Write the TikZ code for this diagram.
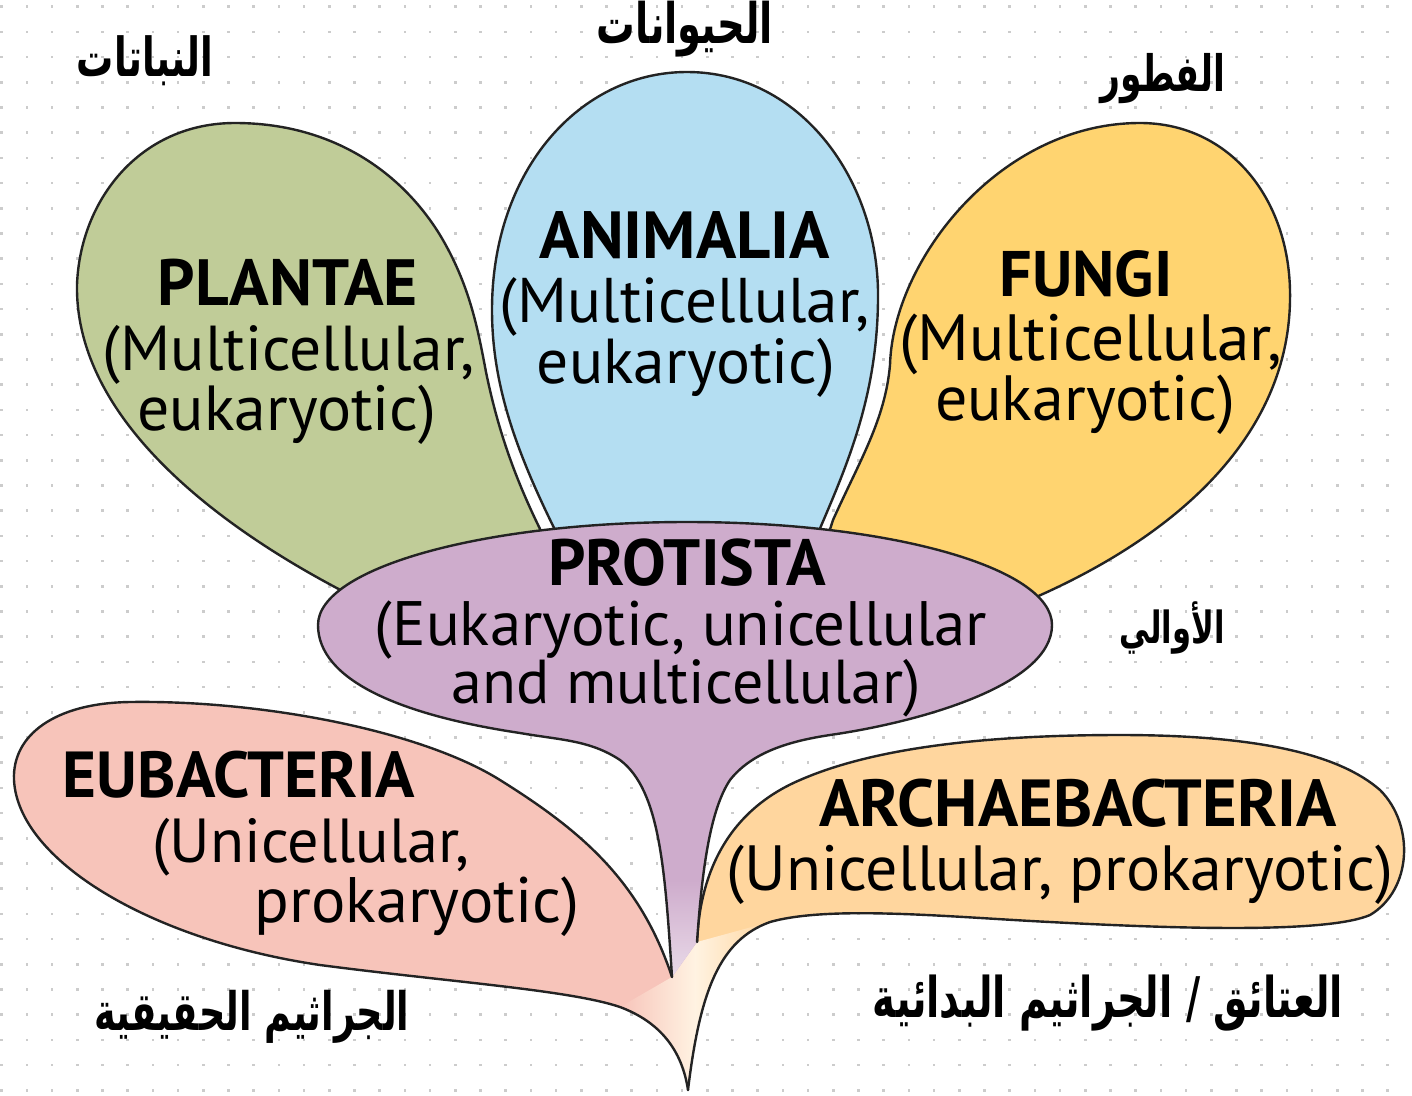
\documentclass[tikz,border=0pt]{standalone}
\usepackage{fontspec}
\setmainfont{PT Sans}
\newfontfamily\arabicfont[Script=Arabic]{DejaVu Sans}
\TeXXeTstate=1
\definecolor{dotc}{RGB}{204,204,204}
\definecolor{outl}{RGB}{35,35,35}
\definecolor{plant}{RGB}{192,204,152}
\definecolor{anim}{RGB}{180,222,242}
\definecolor{fung}{RGB}{255,212,112}
\definecolor{prot}{RGB}{206,172,204}
\definecolor{eub}{RGB}{247,196,186}
\definecolor{arch}{RGB}{255,214,158}
\newcommand\fitw[2]{\resizebox{#1pt}{!}{#2}}
\newcommand\artext[1]{\scalebox{1}[1.45]{\arabicfont\bfseries\beginR #1\endR}}
\tikzset{
  petal/.style={draw=outl, line width=2.4pt, line join=round, line cap=round},
  hd/.style={anchor=base, inner sep=0pt, font=\bfseries, text=black},
  sb/.style={anchor=base, inner sep=0pt, text=black},
  ar/.style={anchor=base, inner sep=0pt, text=black},
}
\begin{document}
\begin{tikzpicture}[x=1pt,y=-1pt]
\useasboundingbox (0,0) rectangle (1412,1095);
\fill[white] (0,0) rectangle (1412,1095);
\foreach \i in {0,...,55}{\foreach \j in {0,...,43}{
  \fill[dotc] ({0.4+25.2*\i},{5.4+25.2*\j}) rectangle ++(2.6,2.6);}}
% paths
\def\pPlant{(77,285) .. controls (80,200) and (140,123) .. (235,123) .. controls (330,123) and (400,170) .. (440,235) .. controls (470,285) and (478,330) .. (486,372) .. controls (500,440) and (520,490) .. (548,545) -- (560,610) -- (360,600) .. controls (220,530) and (75,420) .. (77,285)}
\def\pAnim{(687,72) .. controls (800,72) and (880,180) .. (878,300) .. controls (877,400) and (845,470) .. (815,540) -- (560,540) .. controls (520,460) and (492,390) .. (492,310) .. controls (492,170) and (580,72) .. (687,72)}
\def\pFung{(1140,123) .. controls (1230,123) and (1292,200) .. (1290,300) .. controls (1288,440) and (1170,545) .. (1005,610) -- (825,545) -- (833,520) .. controls (860,460) and (885,420) .. (890,365) .. controls (893,260) and (1000,123) .. (1140,123)}
\def\pEub{(672,977) .. controls (640,880) and (580,830) .. (500,780) .. controls (420,730) and (260,700) .. (130,702) .. controls (55,703) and (12,735) .. (14,780) .. controls (18,860) and (150,940) .. (320,965) .. controls (450,982) and (570,990) .. (620,1007) .. controls (660,1022) and (682,1050) .. (688,1090)}
\def\pArch{(697,942) .. controls (700,870) and (730,810) .. (800,780) .. controls (880,745) and (1000,735) .. (1120,735) .. controls (1260,735) and (1340,755) .. (1380,790) .. controls (1415,825) and (1412,890) .. (1370,915) .. controls (1330,932) and (1200,930) .. (1050,922) .. controls (950,917) and (830,905) .. (770,922) .. controls (720,940) and (700,990) .. (688,1090)}
\def\pProt{(672,977) .. controls (665,870) and (660,790) .. (620,760) .. controls (590,740) and (560,740) .. (520,733) .. controls (400,715) and (318,680) .. (318,625) .. controls (318,568) and (483,522) .. (687,522) .. controls (891,522) and (1052,568) .. (1052,625) .. controls (1052,685) and (920,722) .. (830,735) .. controls (790,741) and (752,752) .. (730,780) .. controls (710,810) and (702,870) .. (697,942)}
% upper petals
\filldraw[petal, fill=plant] \pPlant -- cycle;
\filldraw[petal, fill=fung] \pFung -- cycle;
\filldraw[petal, fill=anim] \pAnim -- cycle;
% lower petals
\fill[eub] \pEub -- (686,960) -- cycle;
\fill[arch] \pArch -- (686,960) -- cycle;
\shade[left color=eub, right color=arch, middle color=white!70!arch]
  (620,1007) .. controls (660,1022) and (682,1050) .. (688,1090) .. controls (700,990) and (720,940) .. (770,922) -- (697,942) -- (672,977) -- cycle;
\draw[petal] \pEub;
\draw[petal] \pArch;
% protista
\fill[prot] \pProt -- cycle;
\begin{scope}
  \clip \pProt -- cycle;
  \shade[top color=prot, bottom color=white!60!prot] (630,880) rectangle (740,985);
\end{scope}
\draw[petal] \pProt;
% texts
\node[hd] (tPl) at (288,305) {\fitw{260}{PLANTAE}};
\node[sb] (tPl1) at (289,370) {\fitw{372}{(Multicellular,}};
\node[sb] (tPl2) at (287,430) {\fitw{299}{eukaryotic)}};
\node[hd] (tAn) at (685,258) {\fitw{290}{ANIMALIA}};
\node[sb] (tAn1) at (685,322) {\fitw{370}{(Multicellular,}};
\node[sb] (tAn2) at (686,383) {\fitw{298}{eukaryotic)}};
\node[hd] (tFu) at (1086,296) {\fitw{173}{FUNGI}};
\node[sb] (tFu1) at (1091,360) {\fitw{383}{(Multicellular,}};
\node[sb] (tFu2) at (1085,420) {\fitw{300}{eukaryotic)}};
\node[hd] (tPr) at (687,585) {\fitw{278}{PROTISTA}};
\node[sb] (tPr1) at (681,645) {\fitw{612}{(Eukaryotic, unicellular}};
\node[sb] (tPr2) at (686,703) {\fitw{469}{and multicellular)}};
\node[hd] (tEu) at (239,797) {\fitw{352}{EUBACTERIA}};
\node[sb] (tEu1) at (311,862) {\fitw{317}{(Unicellular,}};
\node[sb] (tEu2) at (417,922) {\fitw{325}{prokaryotic)}};
\node[hd] (tAr) at (1078,826) {\fitw{517}{ARCHAEBACTERIA}};
\node[sb] (tAr1) at (1060,890) {\fitw{666}{(Unicellular, prokaryotic)}};
% arabic labels
\node[ar] (aPl) at (145,76) {\fitw{136}{\artext{النباتات}}};
\node[ar] (aAn) at (685,43) {\fitw{176}{\artext{الحيوانات}}};
\node[ar] (aFu) at (1163,91) {\fitw{125}{\artext{الفطور}}};
\node[ar] (aPr) at (1172,643) {\fitw{105}{\artext{الأوالي}}};
\node[ar] (aEu) at (252,1030) {\fitw{315}{\artext{الجراثيم الحقيقية}}};
\node[ar] (aAr) at (1108,1017) {\fitw{470}{\artext{العتائق / الجراثيم البدائية}}};
\end{tikzpicture}
\end{document}
